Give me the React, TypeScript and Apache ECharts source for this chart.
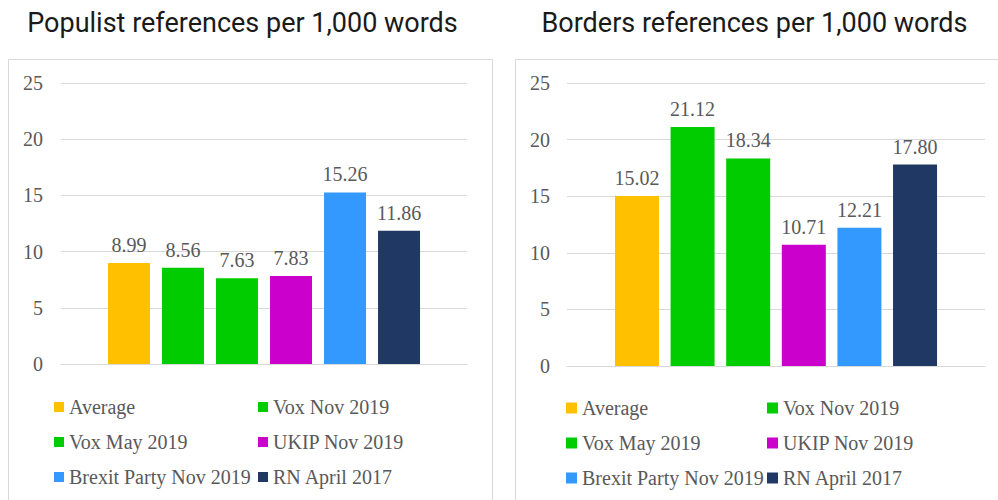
import React, { useEffect, useRef } from "react";
import * as echarts from "echarts";

const categories = [""];
const seriesNames = [
  "Average",
  "Vox Nov 2019",
  "Vox May 2019",
  "UKIP Nov 2019",
  "Brexit Party Nov 2019",
  "RN April 2017",
];
const populistValues = [8.99, 8.56, 7.63, 7.83, 15.26, 11.86];
const bordersValues = [15.02, 21.12, 18.34, 10.71, 12.21, 17.8];
const leftTitle = "Populist references per 1,000 words";
const rightTitle = "Borders references per 1,000 words";

const COLORS = ["#FFC000", "#00CC00", "#00CC00", "#CC00CC", "#3399FF", "#203864"];
const SERIF = "'Liberation Serif', 'Times New Roman', serif";
const GRAY = "#595959";
const LINE = "#D9D9D9";

export default function App() {
  const ref = useRef<HTMLDivElement>(null);

  useEffect(() => {
    if (!ref.current) return;
    const chart = echarts.init(ref.current, undefined, { renderer: "svg" });

    const panels = [
      {
        values: populistValues,
        barWidth: 42,
        barGap: "28.6%",
        legendCols: [54, 258],
        legendRows: [407, 442, 477],
        icon: 10,
      },
      {
        values: bordersValues,
        barWidth: 44,
        barGap: "26.4%",
        legendCols: [566, 767],
        legendRows: [408, 443, 478],
        icon: 11,
      },
    ];

    const series: any[] = [];
    const legends: any[] = [];
    panels.forEach((p, pi) => {
      seriesNames.forEach((name, i) => {
        series.push({
          type: "bar",
          name,
          xAxisIndex: pi,
          yAxisIndex: pi,
          data: [p.values[i]],
          barWidth: p.barWidth,
          barGap: p.barGap,
          itemStyle: { color: COLORS[i] },
          label: {
            show: true,
            position: "top",
            distance: 8,
            color: GRAY,
            fontFamily: SERIF,
            fontSize: 20,
            formatter: (prm: any) => Number(prm.value).toFixed(2),
          },
        });
        const col = i % 2;
        const row = Math.floor(i / 2);
        legends.push({
          data: [name],
          left: p.legendCols[col],
          top: p.legendRows[row] - 10,
          padding: 0,
          icon: "rect",
          itemWidth: p.icon,
          itemHeight: p.icon,
          selectedMode: false,
          textStyle: {
            color: GRAY,
            fontFamily: SERIF,
            fontSize: 20,
            lineHeight: 20,
          },
        });
      });
    });

    const yAxisCommon = {
      type: "value",
      min: 0,
      max: 25,
      interval: 5,
      axisLine: { show: false },
      axisTick: { show: false },
      splitLine: { lineStyle: { color: LINE, width: 1 } },
      axisLabel: { color: GRAY, fontFamily: SERIF, fontSize: 20 },
    };
    const xAxisCommon = {
      type: "category",
      data: categories,
      axisLine: { lineStyle: { color: LINE } },
      axisTick: { show: false },
      axisLabel: { show: false },
    };

    const titleStyle = { fontFamily: "Roboto", fontSize: 27, fontWeight: "normal", color: "#1A1A1A" };

    chart.setOption({
      animation: false,
      title: [
        {
          text: leftTitle,
          left: 242.5,
          top: 22.5,
          padding: 0,
          textAlign: "center",
          textVerticalAlign: "middle",
          textStyle: titleStyle,
        },
        {
          text: rightTitle,
          left: 754.5,
          top: 22.5,
          padding: 0,
          textAlign: "center",
          textVerticalAlign: "middle",
          textStyle: titleStyle,
        },
      ],
      graphic: [
        {
          type: "rect",
          shape: { x: 8.5, y: 59.5, width: 484, height: 460 },
          style: { fill: "none", stroke: LINE, lineWidth: 1 },
          silent: true,
          z: -1,
        },
        {
          type: "rect",
          shape: { x: 515.5, y: 59.5, width: 500, height: 460 },
          style: { fill: "none", stroke: LINE, lineWidth: 1 },
          silent: true,
          z: -1,
        },
      ],
      grid: [
        { left: 61, top: 83, width: 406, height: 281, containLabel: false },
        { left: 567, top: 83, width: 418, height: 283, containLabel: false },
      ],
      xAxis: [
        { ...xAxisCommon, gridIndex: 0 },
        { ...xAxisCommon, gridIndex: 1 },
      ],
      yAxis: [
        { ...yAxisCommon, gridIndex: 0, axisLabel: { ...yAxisCommon.axisLabel, margin: 18 } },
        { ...yAxisCommon, gridIndex: 1, axisLabel: { ...yAxisCommon.axisLabel, margin: 17 } },
      ],
      legend: legends,
      series,
    });

    return () => chart.dispose();
  }, []);

  return (
    <div
      ref={ref}
      style={{ position: "absolute", left: 0, top: 0, width: 998, height: 500, background: "#ffffff" }}
    />
  );
}
